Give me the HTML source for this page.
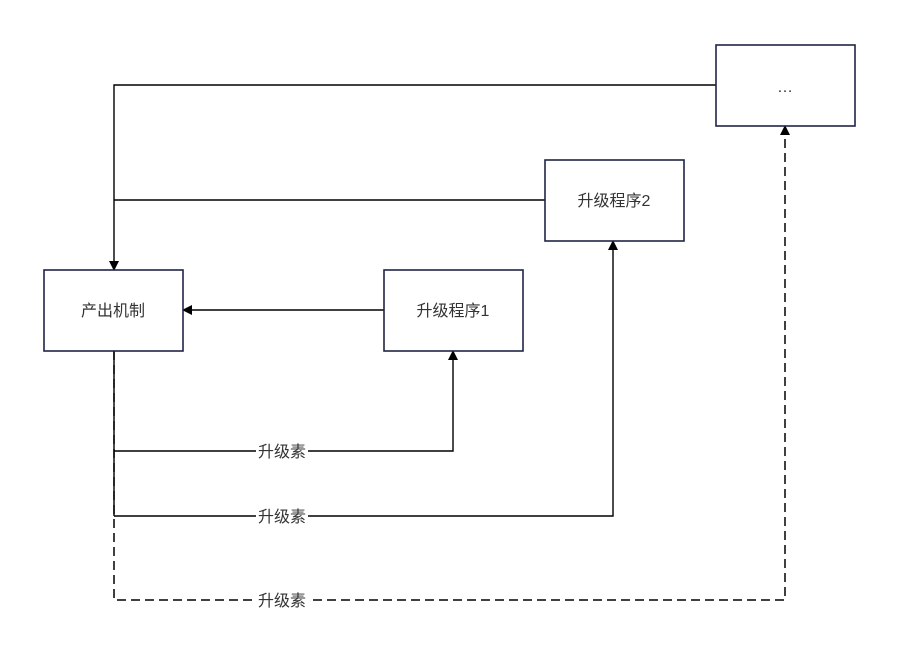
<!DOCTYPE html>
<html><head><meta charset="utf-8"><style>
html,body{margin:0;padding:0;background:#fff;width:900px;height:662px;overflow:hidden}
svg text{font-family:"Liberation Sans","Noto Sans CJK SC",sans-serif;font-size:16px;fill:#333}
</style></head><body>
<svg width="900" height="662" viewBox="0 0 900 662" xmlns="http://www.w3.org/2000/svg">
<defs><marker id="a" markerWidth="10" markerHeight="10" refX="9" refY="5" orient="auto" markerUnits="userSpaceOnUse"><path d="M0,0 L10,5 L0,10 Z" fill="#000"/></marker></defs>
<g fill="none" stroke="#000" stroke-width="1.4">
<path d="M716,85 H114 V270" marker-end="url(#a)"/>
<path d="M545,200 H114"/>
<path d="M384,310 H183" marker-end="url(#a)"/>
<path d="M114,351 V516"/>
<path d="M114,451 H453 V351" marker-end="url(#a)"/>
<path d="M114,516 H613 V241" marker-end="url(#a)"/>
<path d="M114,351 V600 H785 V126" stroke-dasharray="9,5" stroke-width="1.5" marker-end="url(#a)"/>
</g>
<g fill="#fff" stroke="#1f2545" stroke-width="1.6">
<rect x="716" y="45" width="139" height="81"/>
<rect x="545" y="160" width="139" height="81"/>
<rect x="44" y="270" width="139" height="81"/>
<rect x="384" y="270" width="139" height="81"/>
</g>
<rect x="256" y="441" width="52" height="20" fill="#fff"/>
<rect x="256" y="506" width="52" height="20" fill="#fff"/>
<rect x="256" y="590" width="52" height="20" fill="#fff"/>
<g text-anchor="middle">
<text x="785" y="92">…</text>
<text x="614" y="206">升级程序2</text>
<text x="113" y="316">产出机制</text>
<text x="453" y="316">升级程序1</text>
<text x="282" y="457">升级素</text>
<text x="282" y="522">升级素</text>
<text x="282" y="606">升级素</text>
</g>
</svg>
</body></html>
